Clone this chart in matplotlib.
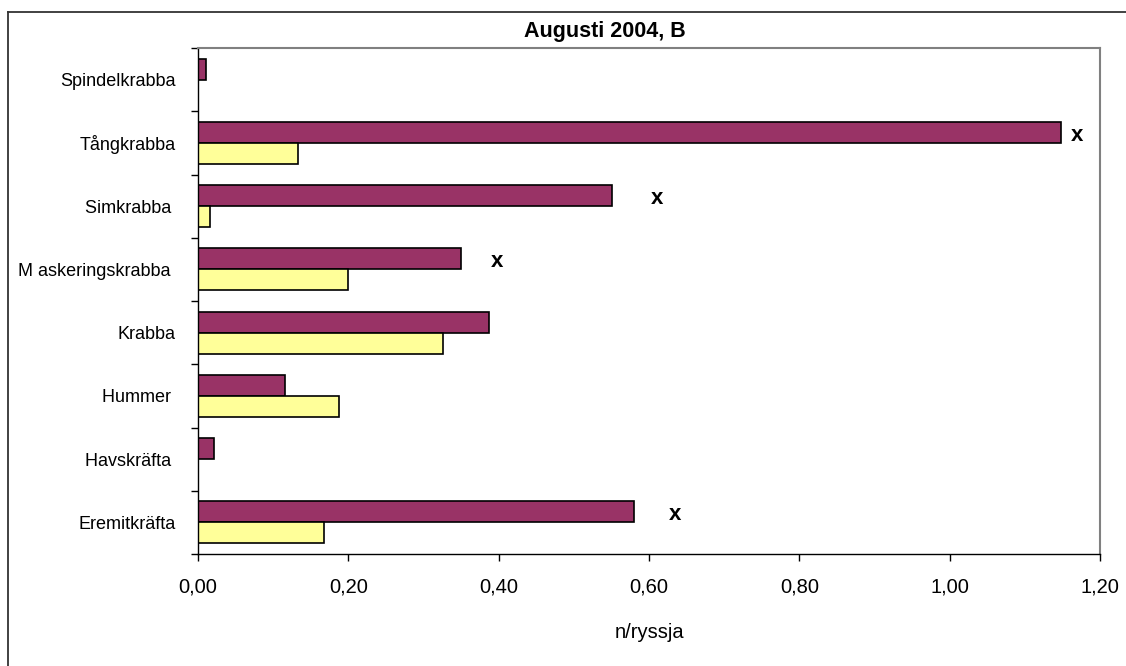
import matplotlib
matplotlib.use("Agg")
import matplotlib.pyplot as plt
from matplotlib.lines import Line2D
import numpy as np

plt.rcParams["font.family"] = ["Liberation Sans", "DejaVu Sans"]

# species, top to bottom
species = ["Spindelkrabba", "Tångkrabba", "Simkrabba ", "M askeringskrabba ",
           "Krabba", "Hummer ", "Havskräfta ", "Eremitkräfta"]

# catch per fyke net (n/ryssja), two series
purple_vals = [0.01, 1.148, 0.551, 0.350, 0.387, 0.116, 0.021, 0.580]
yellow_vals = [0.0, 0.133, 0.016, 0.199, 0.326, 0.188, 0.0, 0.167]

# "x" markers beside some bars
mark_species = ["Tångkrabba", "Simkrabba ", "M askeringskrabba ", "Eremitkräfta"]
mark_x = [1.170, 0.611, 0.398, 0.635]

xticks = [0.0, 0.2, 0.4, 0.6, 0.8, 1.0, 1.2]

fig = plt.figure(figsize=(11.26, 6.66), dpi=100)
ax = fig.add_axes([198 / 1126, 1 - 554 / 666, 902 / 1126, 506 / 666])

y = np.arange(len(species))
h = 1 / 3
ax.barh(y - h / 2, purple_vals, height=h, color="#993366",
        edgecolor="black", linewidth=1.2)
ax.barh(y + h / 2, yellow_vals, height=h, color="#FFFF99",
        edgecolor="black", linewidth=1.2)

for name, xv in zip(mark_species, mark_x):
    ax.text(xv, species.index(name) - 0.12, "x", fontsize=16,
            fontweight="bold", ha="center", va="center")

ax.set_xlim(0, 1.2)
ax.set_ylim(len(species) - 0.5, -0.5)

ax.set_xticks(xticks)
ax.set_xticklabels([f"{t:.2f}".replace(".", ",") for t in xticks], fontsize=14.5)
ax.tick_params(axis="x", direction="out", length=5, width=1, pad=12)

ax.set_yticks(np.arange(-0.5, len(species), 1))
ax.set_yticklabels([])
ax.set_yticks(y, minor=True)
ax.set_yticklabels(species, minor=True, fontsize=13)
ax.tick_params(axis="y", which="major", direction="out", length=5, width=1)
ax.tick_params(axis="y", which="minor", length=0, pad=16)

ax.set_xlabel("n/ryssja", fontsize=14.5, labelpad=19)

for side in ["top", "right"]:
    ax.spines[side].set_color("#808080")
    ax.spines[side].set_linewidth(1.5)
for side in ["left", "bottom"]:
    ax.spines[side].set_color("black")
    ax.spines[side].set_linewidth(1)

fig.text(605 / 1126, 1 - 31 / 666, "Augusti 2004, B", fontsize=15.5,
         fontweight="bold", ha="center", va="center")

# chart frame
fig.add_artist(Line2D([8 / 1126, 1], [1 - 12 / 666, 1 - 12 / 666],
                      color="#333333", linewidth=1.3))
fig.add_artist(Line2D([8 / 1126, 8 / 1126], [0, 1 - 12 / 666],
                      color="#333333", linewidth=1.3))

fig.savefig("out.png", dpi=100)
